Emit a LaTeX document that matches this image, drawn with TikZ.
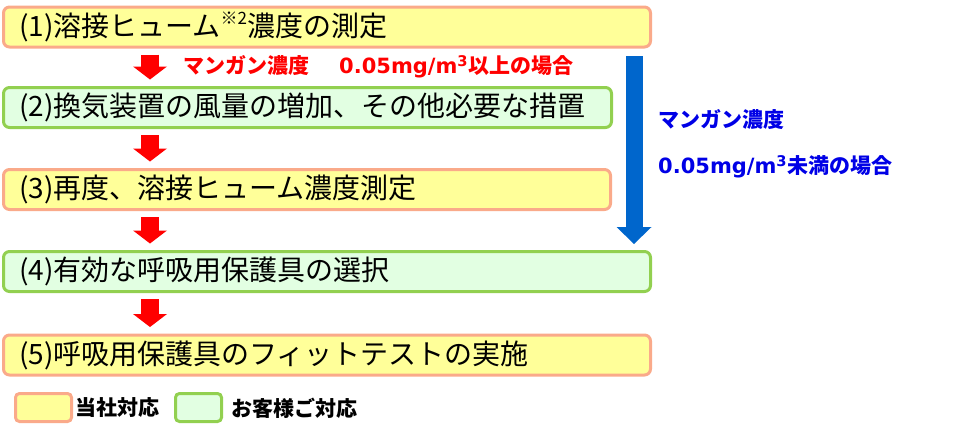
\documentclass[tikz,border=0pt]{standalone}
\usepackage{fontspec}
\setmainfont{Noto Sans CJK JP}
\newfontfamily\numfont{DejaVu Sans}
\usetikzlibrary{arrows.meta,calc}
\definecolor{ownorange}{RGB}{250,170,138}
\definecolor{ownyellow}{RGB}{255,255,153}
\definecolor{owngreen}{RGB}{146,208,80}
\definecolor{ownmint}{RGB}{226,255,226}
\definecolor{ownred}{RGB}{255,0,0}
\definecolor{ownblue}{RGB}{0,102,204}
\definecolor{owntext}{RGB}{0,0,230}

\begin{document}
\begin{tikzpicture}[x=1pt, y=-1pt, >=latex]
    \tikzstyle{ours}=[rectangle, rounded corners=6pt, line width=3pt, draw=ownorange, fill=ownyellow, anchor=west, minimum height=40pt, inner xsep=15.5pt, inner ysep=0pt, align=left, font=\fontsize{28}{28}\selectfont]
    \tikzstyle{theirs}=[ours, draw=owngreen, fill=ownmint]
    \tikzstyle{key}=[rounded corners=4pt, minimum height=28pt, anchor=center, text width=, inner sep=0pt]
    \tikzstyle{note}=[anchor=west, inner sep=0pt, font=\bfseries\fontsize{21}{21}\selectfont]
    \tikzstyle{redarrow}=[line width=18pt, draw=ownred, -{Triangle[length=13pt,width=34pt,line width=0pt]}, shorten <=6pt, shorten >=6.5pt]
    \tikzstyle{bluearrow}=[line width=17pt, draw=ownblue, -{Triangle[length=17pt,width=35pt,line width=0pt]}, shorten <=7.5pt, shorten >=6pt]
    \useasboundingbox (0,0) rectangle (976,434);
    \node[ours, text width=616pt] (measure) at (2,27) {(1)溶接ヒューム\raisebox{.75ex}{\fontsize{17}{17}\selectfont ※2}濃度の測定};
    \node[theirs, text width=577pt] (ventilate) at (2,107.5) {(2)換気装置の風量の増加、その他必要な措置};
    \node[ours, text width=576pt] (remeasure) at (2,189.5) {(3)再度、溶接ヒューム濃度測定};
    \node[theirs, text width=616pt] (select) at (2,271.5) {(4)有効な呼吸用保護具の選択};
    \node[ours, text width=616pt] (fittest) at (2,355) {(5)呼吸用保護具のフィットテストの実施};
    \coordinate (ax) at (150,0);
    \coordinate (bx) at (634,0);
    \draw[redarrow] (measure.south -| ax) -- (ventilate.north -| ax);
    \draw[redarrow] (ventilate.south -| ax) -- (remeasure.north -| ax);
    \draw[redarrow] (remeasure.south -| ax) -- (select.north -| ax);
    \draw[redarrow] (select.south -| ax) -- (fittest.north -| ax);
    \draw[bluearrow] (measure.south -| bx) -- (select.north -| bx);
    \node[note, text=ownred] (above) at (183,67) {マンガン濃度\hspace{30pt}{\numfont 0.05mg/m\textsuperscript{3}}以上の場合};
    \node[note, text=owntext] (belowa) at (658,120) {マンガン濃度};
    \node[note, text=owntext] (belowb) at (658,167) {{\numfont 0.05mg/m\textsuperscript{3}}未満の場合};
    \node[ours, key, minimum width=56pt] (keyours) at (43.5,407.5) {};
    \node[note] (labelours) at (75,408) {当社対応};
    \node[theirs, key, minimum width=46pt] (keytheirs) at (198.5,407.5) {};
    \node[note] (labeltheirs) at (231,408) {お客様ご対応};
\end{tikzpicture}
\end{document}
